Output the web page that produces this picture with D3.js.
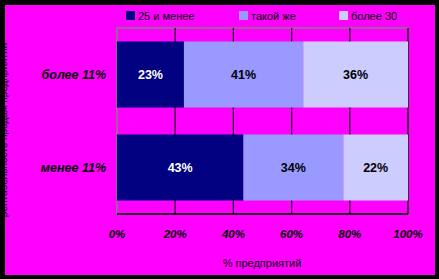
<!DOCTYPE html>
<html><head><meta charset="utf-8">
<script src="https://cdn.jsdelivr.net/npm/d3@7"></script>
<style>html,body{margin:0;padding:0;background:#000;}svg{display:block;}</style>
</head><body>
<script>
const categories = ["более 11%", "менее 11%"];
const seriesNames = ["25 и менее", "такой же", "более 30"];
const series1 = [23, 43];
const series2 = [41, 34];
const series3 = [36, 22];
const xTicks = [0, 20, 40, 60, 80, 100];
const xTitle = "% предприятий";
const yTitle = "рентабельность продаж предприятий";

(function(){
const colors = ["#000080", "#9999FF", "#CCCCFF"];
const labelColors = ["#fff", "#000", "#000"];
const W = 439, H = 279;
const svg = d3.select("body").append("svg").attr("width", W).attr("height", H);
svg.append("rect").attr("width", W).attr("height", H).attr("fill", "#000");
svg.append("rect").attr("x", 5).attr("y", 5).attr("width", 430).attr("height", 270).attr("fill", "#FF00FF");

const pL = 117, pR = 408, pT = 28, pB = 214;
const x = d3.scaleLinear().domain([0, 100]).range([pL, pR]);
const y = d3.scaleBand().domain(categories).range([pT, pB]).paddingInner(0.29).paddingOuter(0.145);

svg.append("rect").attr("x", pL).attr("y", pT).attr("width", pR-pL).attr("height", pB-pT)
  .attr("fill", "none").attr("stroke", "#808080").attr("stroke-width", 1.5);
svg.append("g").selectAll("line").data(xTicks.slice(1)).join("line")
  .attr("x1", d => x(d)).attr("x2", d => x(d)).attr("y1", pT).attr("y2", pB)
  .attr("stroke", "#000").attr("stroke-width", 1.2);
svg.append("line").attr("x1", pL).attr("x2", pR).attr("y1", pB).attr("y2", pB)
  .attr("stroke", "#000").attr("stroke-width", 1.5);

const all = [series1, series2, series3];
const rows = categories.map((c, i) => {
  const total = d3.sum(all, s => s[i]);
  let acc = 0;
  return all.map((s, k) => {
    const o = {c, k, x0: acc * 100 / total, x1: (acc + s[i]) * 100 / total, v: s[i]};
    acc += s[i]; return o;
  });
});
const g = svg.append("g");
rows.flat().forEach(d => {
  g.append("rect").attr("x", x(d.x0)).attr("y", y(d.c)).attr("width", x(d.x1) - x(d.x0))
    .attr("height", y.bandwidth()).attr("fill", colors[d.k]);
  g.append("text").attr("x", x((d.x0 + d.x1)/2)).attr("y", y(d.c) + y.bandwidth()/2 + 4.5)
    .attr("text-anchor", "middle").attr("font-family", "Liberation Sans, Arial, sans-serif")
    .attr("font-weight", "bold").attr("font-size", 12.5).attr("fill", labelColors[d.k]).text(d.v + "%");
});

svg.append("g").selectAll("text").data(categories).join("text")
  .attr("x", 106).attr("y", d => y(d) + y.bandwidth()/2 + 4.5).attr("text-anchor", "end")
  .attr("font-family", "Liberation Sans, Arial, sans-serif").attr("font-weight", "bold")
  .attr("font-style", "italic").attr("font-size", 12.5).attr("fill", "#000").text(d => d);

svg.append("g").selectAll("text").data(xTicks).join("text")
  .attr("x", d => x(d)).attr("y", 238).attr("text-anchor", "middle")
  .attr("font-family", "Liberation Sans, Arial, sans-serif").attr("font-weight", "bold")
  .attr("font-style", "italic").attr("font-size", 11.5).attr("fill", "#000").text(d => d + "%");

svg.append("text").attr("x", 262).attr("y", 267).attr("text-anchor", "middle")
  .attr("font-family", "Liberation Sans, Arial, sans-serif").attr("font-size", 11).attr("fill", "#000").text(xTitle);

svg.append("text").attr("transform", "translate(7,130) rotate(-90)").attr("text-anchor", "middle")
  .attr("font-family", "Liberation Sans, Arial, sans-serif").attr("font-size", 10).attr("fill", "#000").text(yTitle);
svg.append("rect").attr("x", 0).attr("y", 0).attr("width", 5).attr("height", H).attr("fill", "#000");

const legX = [126, 239, 339];
const leg = svg.append("g");
seriesNames.forEach((n, i) => {
  leg.append("rect").attr("x", legX[i]).attr("y", 11).attr("width", 9).attr("height", 9).attr("fill", colors[i]);
  leg.append("text").attr("x", legX[i] + 12).attr("y", 20).attr("font-family", "Liberation Sans, Arial, sans-serif")
    .attr("font-size", 11).attr("fill", "#000").text(n);
});
})();
</script>
</body></html>
